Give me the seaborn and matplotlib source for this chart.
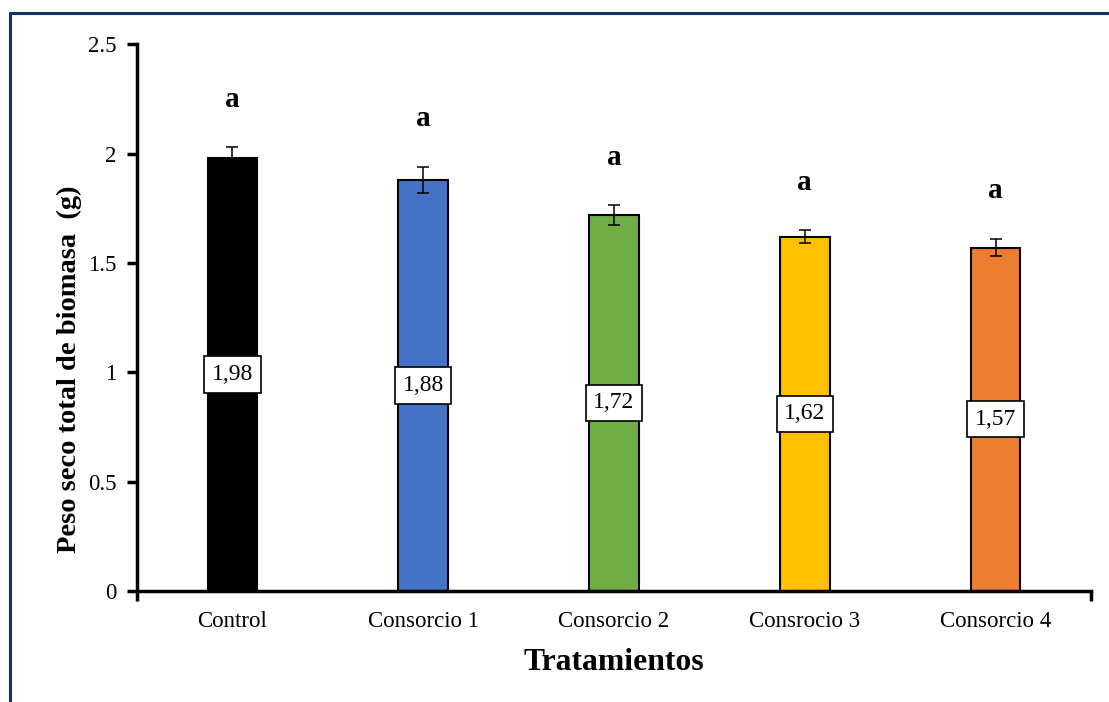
import numpy as np
import pandas as pd
import matplotlib
matplotlib.use("Agg")
import matplotlib.pyplot as plt
from matplotlib.lines import Line2D
import seaborn as sns

# Treatments, mean dry biomass and standard error
tratamientos = ["Control", "Consorcio 1", "Consorcio 2", "Consrocio 3", "Consorcio 4"]
peso_seco = [1.98, 1.88, 1.72, 1.62, 1.57]
error_std = [0.05, 0.06, 0.045, 0.03, 0.04]
letras = ["a", "a", "a", "a", "a"]
colores = ["#000000", "#4472C4", "#70AD47", "#FFC000", "#ED7D31"]
y_ticks = [0, 0.5, 1, 1.5, 2, 2.5]
y_tick_labels = ["0", "0.5", "1", "1.5", "2", "2.5"]

sns.set_style("white")
plt.rcParams["font.family"] = ["Liberation Serif", "DejaVu Serif"]
plt.rcParams["text.color"] = "black"
plt.rcParams["axes.labelcolor"] = "black"
plt.rcParams["xtick.color"] = "black"
plt.rcParams["ytick.color"] = "black"

df = pd.DataFrame({"Tratamiento": tratamientos, "Peso": peso_seco})

fig = plt.figure(figsize=(11.09, 7.02), dpi=100)
ax = fig.add_axes([0.1235, 0.158, 0.8603, 0.779])

sns.barplot(data=df, x="Tratamiento", y="Peso", hue="Tratamiento",
            palette=colores, width=0.26, edgecolor="black", linewidth=1.5,
            legend=False, errorbar=None, saturation=1, ax=ax)

xpos = np.arange(len(tratamientos))
ax.errorbar(xpos, peso_seco, yerr=error_std, fmt="none", ecolor="black",
            elinewidth=1.1, capsize=4.5, capthick=1.1, zorder=5)

# Significance letters above each error bar
for x, m, e, l in zip(xpos, peso_seco, error_std, letras):
    ax.annotate(l, xy=(x, m + e), xytext=(0, 48), textcoords="offset pixels",
                ha="center", va="center", fontsize=21, fontweight="bold",
                color="black")

# Boxed value labels at mid-height of each bar
for x, m in zip(xpos, peso_seco):
    ax.text(x, m / 2, f"{m:.2f}".replace(".", ","), ha="center", va="center",
            fontsize=17, zorder=6, color="black",
            bbox=dict(boxstyle="square,pad=0.32", facecolor="white",
                      edgecolor="black", linewidth=1.2))

ax.set_xlim(-0.5, len(tratamientos) - 0.5)
ax.set_ylim(0, 2.5)
ax.set_yticks(y_ticks)
ax.set_yticklabels(y_tick_labels)
ax.set_xticks(xpos)
ax.set_xticklabels(tratamientos)
# Tick stubs only at both ends of the category axis
ax.set_xticks([-0.5, len(tratamientos) - 0.5], minor=True)
ax.tick_params(axis="x", which="major", bottom=True, length=0, pad=14, labelsize=16.5)
ax.tick_params(axis="x", which="minor", bottom=True, length=7, width=2.5, direction="out")
ax.tick_params(axis="y", left=True, length=7, width=2.5, direction="out", pad=8, labelsize=16.5)

for side in ["top", "right"]:
    ax.spines[side].set_visible(False)
for side in ["left", "bottom"]:
    ax.spines[side].set_linewidth(2.5)
    ax.spines[side].set_color("black")

ax.set_xlabel("Tratamientos", fontsize=22.8, fontweight="bold", labelpad=12)
ax.set_ylabel("Peso seco total de biomasa  (g)", fontsize=20.5, fontweight="bold")
ax.yaxis.set_label_coords(-0.058, 0.406)

# Frame around the figure (left and top edges visible)
W, H = fig.get_size_inches() * fig.dpi
x0 = 10 / W
y0 = 1 - 12.5 / H
fig.add_artist(Line2D([x0, x0], [-0.01, y0], color="#14306b", linewidth=2.2,
                      transform=fig.transFigure))
fig.add_artist(Line2D([x0, 1.01], [y0, y0], color="#14306b", linewidth=2.2,
                      transform=fig.transFigure))

fig.savefig("out.png", dpi=100)
